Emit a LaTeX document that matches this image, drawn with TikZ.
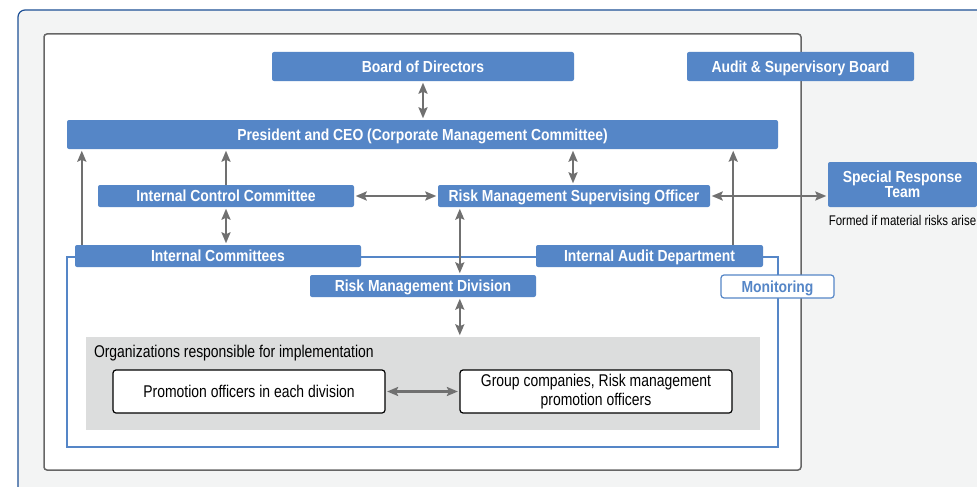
\documentclass[tikz,border=0pt]{standalone}
\usepackage{fontspec}
\setmainfont{Liberation Sans}
\newfontfamily\headfont{Liberation Sans}[FakeStretch=0.87]
\newfontfamily\bodyfont{Liberation Sans}[FakeStretch=0.82]
\usetikzlibrary{arrows.meta,positioning,calc}

\definecolor{rmblue}{RGB}{85,134,199}
\definecolor{framblue}{RGB}{30,80,150}
\definecolor{pagegray}{RGB}{243,244,244}
\definecolor{implgray}{RGB}{220,221,221}
\definecolor{arrgray}{RGB}{112,112,112}

\begin{document}
\begin{tikzpicture}[
  x=1pt, y=-1pt,
  blk/.style={fill=rmblue, text=white, rounded corners=2pt, inner sep=0pt, align=center,
    font=\headfont\bfseries\fontsize{16}{15}\selectfont},
  one/.style={text depth=0pt},
  mon/.style={draw=rmblue, line width=1.2pt, fill=white, text=rmblue, rounded corners=3pt, inner sep=0pt,
    text depth=0pt, font=\headfont\bfseries\fontsize{16}{15}\selectfont},
  wbox/.style={draw=black, line width=1.2pt, fill=white, rounded corners=3pt, inner sep=0pt, align=center,
    font=\bodyfont\fontsize{17}{18.5}\selectfont},
  lab/.style={inner sep=0pt, font=\bodyfont\fontsize{17}{18}\selectfont},
  arr/.style={-{Stealth[length=11pt, width=9pt, inset=2pt]}, line width=2.2pt, draw=arrgray, shorten >=1.5pt},
  dbl/.style={{Stealth[length=11pt, width=9pt, inset=2pt]}-{Stealth[length=11pt, width=9pt, inset=2pt]},
    line width=2.2pt, draw=arrgray, shorten >=1.5pt, shorten <=1.5pt}
]
\clip (0,0) rectangle (977,487);

% ---------- Frames ----------
\fill[white] (0,0) rectangle (977,487);
\draw[draw=framblue, fill=pagegray, line width=1.2pt, rounded corners=7pt] (18,500) -- (18,10) -- (995,10) -- (995,500) -- cycle;
\draw[draw=black!60, fill=white, line width=1.5pt, rounded corners=3pt] (44,34) rectangle (801,470);
\draw[draw=rmblue, line width=1.2pt] (67,257) rectangle (778,447);

% ---------- Top management ----------
\node[blk, one, minimum width=302, minimum height=29] (board) at (423,66.5) {Board of Directors};
\node[blk, one, minimum width=227, minimum height=29] (asb) at (800.5,66.5) {Audit \& Supervisory Board};
\node[blk, one, minimum width=711, minimum height=29] (ceo) at (422.5,134.5)
  {President and CEO (Corporate Management Committee)};

% ---------- Committees and officer ----------
\node[blk, one, minimum width=256, minimum height=22] (icc) at (226,196) {Internal Control Committee};
\node[blk, one, minimum width=272, minimum height=22] (rmso) at (574,196) {Risk Management Supervising Officer};
\node[blk, minimum width=149, minimum height=45] (srt) at (902.5,184.5) {Special Response\\Team};
\node[lab, font=\bodyfont\fontsize{14}{15}\selectfont, below=8pt of srt] (formed) {Formed if material risks arise};

% ---------- Internal organizations ----------
\node[blk, one, minimum width=286, minimum height=22] (ic) at (218,256) {Internal Committees};
\node[blk, one, minimum width=227, minimum height=22] (iad) at (649.5,256) {Internal Audit Department};
\node[blk, one, minimum width=226, minimum height=22] (rmd) at (423,286) {Risk Management Division};
\node[mon, minimum width=113, minimum height=23] (monit) at (777.5,286.5) {Monitoring};

% ---------- Implementation ----------
\node[fill=implgray, inner sep=0pt, minimum width=674, minimum height=93] (impl) at (423,383.5) {};
\node[lab, anchor=west] (impltitle) at ([xshift=8pt, yshift=-16pt]impl.north west)
  {Organizations responsible for implementation};
\node[wbox, one, minimum width=272, minimum height=43] (promo) at (249,391.5) {Promotion officers in each division};
\node[wbox, minimum width=272, minimum height=43] (group) at (596,391.5)
  {Group companies, Risk management\\promotion officers};

% ---------- Connectors ----------
\coordinate (icup) at ([xshift=7pt]ic.north west);
\coordinate (iadup) at ([xshift=-30pt]iad.north east);
\coordinate (rmsodn) at ([xshift=22pt]rmso.south west);

\draw[dbl] (board.south) -- (board.south |- ceo.north);
\draw[dbl] ([xshift=-1pt]rmso.north) -- ([xshift=-1pt]rmso.north |- ceo.south);
\draw[arr] (icc.north) -- (icc.north |- ceo.south);
\draw[dbl] (icc.south) -- (icc.south |- ic.north);
\draw[arr] (icup) -- (icup |- ceo.south);
\draw[arr] (iadup) -- (iadup |- ceo.south);
\draw[dbl] (icc.east) -- (rmso.west);
\draw[dbl] (rmso.east) -- (rmso.east -| srt.west);
\draw[dbl] (rmsodn) -- (rmsodn |- rmd.north);
\draw[dbl] (rmsodn |- rmd.south) -- (rmsodn |- impl.north);
\draw[dbl] (promo.east) -- (group.west);
\end{tikzpicture}
\end{document}
